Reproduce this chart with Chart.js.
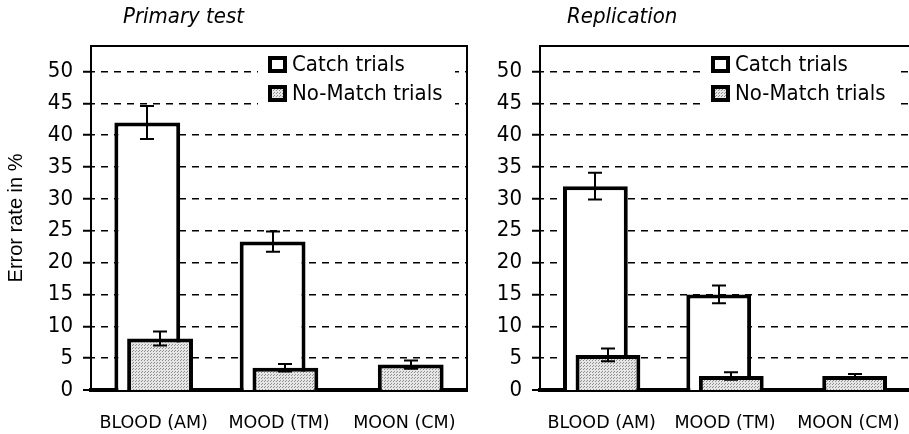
<!DOCTYPE html>
<html><head><meta charset="utf-8">
<script src="https://cdn.jsdelivr.net/npm/chart.js@4/dist/chart.umd.min.js"></script>
<style>
html,body{margin:0;padding:0;background:#fff;overflow:hidden;width:909px;height:434px;position:relative}
#c1{position:absolute;left:0;top:0}
#c2{position:absolute;left:475px;top:0}
</style></head><body>
<canvas id="c1" width="475" height="434" style="width:475px;height:434px"></canvas>
<canvas id="c2" width="440" height="434" style="width:440px;height:434px"></canvas>
<script>
const categories = ['BLOOD (AM)', 'MOOD (TM)', 'MOON (CM)'];
const yTicks = [0, 5, 10, 15, 20, 25, 30, 35, 40, 45, 50];
const seriesNames = ['Catch trials', 'No-Match trials'];
const panelTitles = ['Primary test', 'Replication'];
const yAxisTitle = 'Error rate in %';

const primaryCatch = [42.0, 23.3, 0];
const primaryCatchErr = [2.6, 1.6, 0];
const primaryNoMatch = [8.1, 3.5, 4.0];
const primaryNoMatchErr = [1.1, 0.6, 0.65];

const replCatch = [32.0, 15.0, 0];
const replCatchErr = [2.1, 1.4, 0];
const replNoMatch = [5.5, 2.2, 2.2];
const replNoMatchErr = [1.0, 0.6, 0.3];

const CF = '"DejaVu Sans Condensed", "DejaVu Sans", sans-serif';

function makePattern() {
  const c = document.createElement('canvas');
  c.width = 3; c.height = 3;
  const g = c.getContext('2d');
  g.fillStyle = '#e6e6e6'; g.fillRect(0, 0, 3, 3);
  g.fillStyle = '#8e8e8e';
  g.fillRect(0, 0, 1, 1);
  g.fillRect(1, 2, 1, 1);
  return g.createPattern(c, 'repeat');
}
const dotPattern = makePattern();

const errPlugin = {
  id: 'errbars',
  afterDatasetsDraw(chart) {
    const ctx = chart.ctx, y = chart.scales.y;
    ctx.save();
    ctx.strokeStyle = '#000';
    ctx.lineWidth = 2;
    chart.data.datasets.forEach((ds, i) => {
      if (!ds.errors) return;
      const meta = chart.getDatasetMeta(i);
      meta.data.forEach((bar, j) => {
        const v = ds.data[j], e = ds.errors[j];
        if (v == null || !e) return;
        const yt = y.getPixelForValue(v + e), yb = y.getPixelForValue(v - e);
        const x = Math.round(bar.x);
        ctx.beginPath();
        ctx.moveTo(x, yt); ctx.lineTo(x, yb);
        ctx.moveTo(x - 7, yt); ctx.lineTo(x + 7, yt);
        ctx.moveTo(x - 7, yb); ctx.lineTo(x + 7, yb);
        ctx.stroke();
      });
    });
    ctx.restore();
  }
};

const framePlugin = {
  id: 'frame',
  beforeDatasetsDraw(chart, args, opts) {
    const ctx = chart.ctx, a = chart.chartArea;
    ctx.save();
    const r = a.right;
    ctx.fillStyle = '#fff';
    ctx.fillRect(r - 209, a.top + 9, 197, 54);
    const rows = [
      {label: seriesNames[0], fill: '#fff'},
      {label: seriesNames[1], fill: dotPattern}
    ];
    rows.forEach((row, k) => {
      const cy = a.top + 18.5 + k * 29;
      const mx = r - 199, mw = 19, mh = 17;
      ctx.fillStyle = '#000';
      ctx.fillRect(mx, cy - mh / 2, mw, mh);
      ctx.fillStyle = row.fill;
      ctx.fillRect(mx + 4, cy - mh / 2 + 4, mw - 8, mh - 8);
      ctx.fillStyle = '#000';
      ctx.font = '22px ' + CF;
      ctx.textBaseline = 'middle';
      ctx.textAlign = 'left';
      ctx.fillText(row.label, r - 175, cy + 1);
    });
    ctx.restore();
  },
  afterDatasetsDraw(chart, args, opts) {
    const ctx = chart.ctx, a = chart.chartArea;
    ctx.save();
    ctx.strokeStyle = '#000';
    ctx.lineWidth = 2;
    ctx.beginPath();
    ctx.moveTo(a.left, a.top);
    ctx.lineTo(a.right, a.top);
    ctx.lineTo(a.right, a.bottom);
    ctx.stroke();
    ctx.fillStyle = '#000';
    ctx.font = 'italic 22px ' + CF;
    ctx.textBaseline = 'alphabetic';
    ctx.textAlign = 'left';
    ctx.fillText(opts.title, a.left + opts.titleOffset, 23);
    ctx.restore();
  }
};

function makeChart(id, catchVals, catchErr, nmVals, nmErr, title, titleOffset, yWidth, padRight, showYTitle) {
  return new Chart(document.getElementById(id), {
    type: 'bar',
    data: {
      labels: categories,
      datasets: [
        {label: seriesNames[0], data: catchVals, errors: catchErr,
         backgroundColor: '#ffffff', borderColor: '#000', borderWidth: 4,
         borderSkipped: 'start', stack: 'a', order: 2},
        {label: seriesNames[1], data: nmVals, errors: nmErr,
         backgroundColor: dotPattern, borderColor: '#000', borderWidth: 4,
         borderSkipped: 'start', stack: 'b', order: 1},
        {label: '', data: categories.map(() => null), stack: 'a', order: 0}
      ]
    },
    options: {
      responsive: false,
      maintainAspectRatio: false,
      devicePixelRatio: 1,
      animation: false,
      categoryPercentage: 0.204,
      barPercentage: 5.15,
      layout: {padding: {top: 46, right: padRight, left: 0, bottom: 0}},
      plugins: {
        legend: {display: false},
        tooltip: {enabled: false},
        title: {display: false},
        frame: {title: title, titleOffset: titleOffset}
      },
      scales: {
        x: {
          grid: {display: false, drawTicks: false, tickLength: 0},
          border: {display: true, color: '#000', width: 4},
          ticks: {color: '#000', padding: 23, maxRotation: 0,
                  font: {family: 'DejaVu Sans', size: 17.5}},
          afterFit: s => { s.height = 44; s.paddingLeft = 0; s.paddingRight = 0; }
        },
        y: {
          stacked: false,
          min: 0, max: 54,
          afterBuildTicks: s => { s.ticks = yTicks.map(v => ({value: v})); },
          afterFit: s => { s.width = yWidth; },
          grid: {
            color: '#000',
            lineWidth: c => (c.tick && c.tick.value === 0 ? 0 : 1.5),
            drawTicks: true, tickLength: 8, tickWidth: 2, tickColor: '#000',
            tickBorderDash: []
          },
          border: {display: true, color: '#000', width: 2, dash: [7, 6], dashOffset: 4},
          ticks: {color: '#000', padding: 10, font: {family: CF, size: 22}},
          title: {display: showYTitle, text: yAxisTitle, color: '#000',
                  font: {family: 'Liberation Sans', size: 20}, padding: {top: 4, bottom: 0}}
        }
      }
    },
    plugins: [framePlugin, errPlugin]
  });
}

makeChart('c1', primaryCatch, primaryCatchErr, primaryNoMatch, primaryNoMatchErr, panelTitles[0], 32, 91, 8, true);
makeChart('c2', replCatch, replCatchErr, replNoMatch, replNoMatchErr, panelTitles[1], 27, 65, 5, false);
</script>
</body></html>
